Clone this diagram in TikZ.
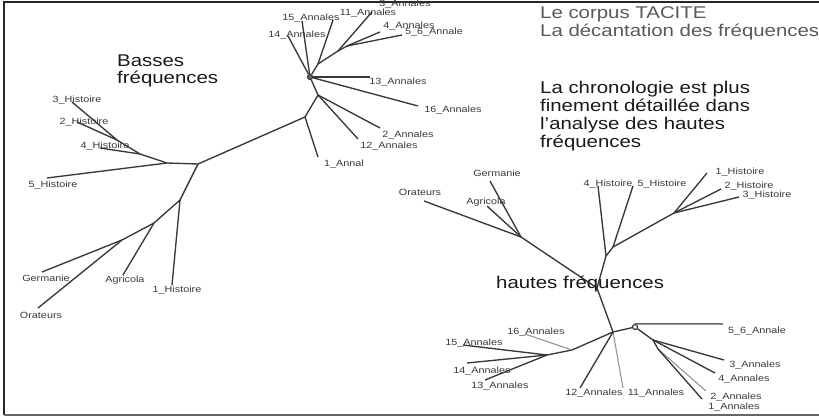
\documentclass[tikz,border=0pt]{standalone}
\usepackage{fontspec}
\setmainfont{Liberation Sans}[FakeStretch=1.2]
\begin{document}
\begin{tikzpicture}[x=1pt,y=-1pt,
  br/.style={draw=black!78, line width=1.35pt},
  brl/.style={draw=black!42, line width=1.1pt},
  lbl/.style={font=\fontsize{9}{10}\selectfont, text=black!78, inner sep=0pt},
  big/.style={font=\fontsize{17}{18}\selectfont, inner sep=0pt, anchor=base west},
  hub/.style={circle, draw=black!80, line width=1.2pt, minimum size=5pt, inner sep=0pt},
  frame/.style={line width=2pt}]
\useasboundingbox (0,0) rectangle (819,417);
\clip (0,0) rectangle (819,417);
% frame
\coordinate (f1) at (3.5,2.5);
\coordinate (f2) at (819,2.5);
\coordinate (f3) at (3.5,415);
\coordinate (f4) at (819,415);
\draw[frame, black!85] (f2) -- (f1) -- (f3);
\draw[frame, black!60] (f3) -- (f4);

% ---------- left tree (basses frequences) ----------
\coordinate (A) at (198,164);
\coordinate (B) at (167,163);
\coordinate (C) at (140,154);
\coordinate (D) at (117,140);
\coordinate (W) at (180,200);
\coordinate (X) at (154,223);
\coordinate (Y) at (122,240);
\coordinate (E) at (305,117);
\coordinate (F) at (318,95);
\node[hub, fill=black!55] (G) at (310,77) {};
\coordinate (H) at (318,64);
\coordinate (I) at (338,51);
\coordinate (J) at (347,46);

\coordinate (e5H) at (47,178);
\coordinate (e4H) at (100,148);
\coordinate (e2H) at (77,122);
\coordinate (e3H) at (72,102);
\coordinate (e1H) at (172,285);
\coordinate (eAg) at (123,275);
\coordinate (eGe) at (42,272);
\coordinate (eOr) at (38,308);
\coordinate (e1A) at (318,157);
\coordinate (e2A) at (380,128);
\coordinate (e12A) at (358,139);
\coordinate (e13A) at (370,77);
\coordinate (e16A) at (418,106);
\coordinate (e14A) at (288,36);
\coordinate (e15A) at (302,21);
\coordinate (e11A) at (333,20);
\coordinate (e3A) at (372,12);
\coordinate (e4A) at (380,32);
\coordinate (e56A) at (402,35);

\draw[br] (A) -- (B) -- (C) -- (D);
\draw[br] (B) -- (e5H);
\draw[br] (C) -- (e4H);
\draw[br] (D) -- (e2H);
\draw[br] (D) -- (e3H);
\draw[br] (A) -- (W) -- (X) -- (Y);
\draw[br] (W) -- (e1H);
\draw[br] (X) -- (eAg);
\draw[br] (Y) -- (eGe);
\draw[br] (Y) -- (eOr);
\draw[br] (A) -- (E) -- (F) -- (G);
\draw[br] (E) -- (e1A);
\draw[br] (F) -- (e2A);
\draw[br] (F) -- (e12A);
\draw[br] (G) -- (e13A);
\draw[br] (G) -- (e16A);
\draw[br] (G) -- (e14A);
\draw[br] (G) -- (e15A);
\draw[br] (G) -- (H) -- (I) -- (J);
\draw[br] (H) -- (e11A);
\draw[br] (I) -- (e3A);
\draw[br] (J) -- (e4A);
\draw[br] (J) -- (e56A);

\node[lbl] (l5H) at (53,185) {5\_Histoire};
\node[lbl] (l4H) at (105,146) {4\_Histoire};
\node[lbl] (l2H) at (84,122) {2\_Histoire};
\node[lbl] (l3H) at (77,100) {3\_Histoire};
\node[lbl] (l1H) at (177,290) {1\_Histoire};
\node[lbl] (lAg) at (125,280) {Agricola};
\node[lbl] (lGe) at (46,278) {Germanie};
\node[lbl] (lOr) at (41,315) {Orateurs};
\node[lbl] (l1A) at (344,164) {1\_Annal};
\node[lbl] (l2A) at (408,135) {2\_Annales};
\node[lbl] (l12A) at (389,146) {12\_Annales};
\node[lbl] (l13A) at (398,82) {13\_Annales};
\node[lbl] (l16A) at (453,110) {16\_Annales};
\node[lbl] (l14A) at (297,35) {14\_Annales};
\node[lbl] (l15A) at (311,18) {15\_Annales};
\node[lbl] (l11A) at (368,13) {11\_Annales};
\node[lbl] (l3A) at (405,4) {3\_Annales};
\node[lbl] (l4A) at (409,26) {4\_Annales};
\node[lbl] (l56A) at (434,32) {5\_6\_Annale};

% ---------- right tree (hautes frequences) ----------
\coordinate (N) at (597,288);
\coordinate (K) at (521,237);
\coordinate (L) at (606,256);
\coordinate (L2) at (613,247);
\coordinate (Q) at (674,213);
\coordinate (M) at (613,332);
\node[hub] (R) at (635,327) {};
\coordinate (S) at (653,340);
\coordinate (T) at (658,349);
\coordinate (U) at (572,350);
\coordinate (V) at (547,355);

\coordinate (rOr) at (424,201);
\coordinate (rGe) at (490,181);
\coordinate (rAg) at (487,206);
\coordinate (r4H) at (598,186);
\coordinate (r5H) at (633,186);
\coordinate (r1H) at (707,173);
\coordinate (r2H) at (721,189);
\coordinate (r3H) at (739,197);
\coordinate (r11A) at (623,388);
\coordinate (r12A) at (580,388);
\coordinate (r56A) at (723,324);
\coordinate (r3A) at (724,360);
\coordinate (r4A) at (715,373);
\coordinate (r2A) at (706,391);
\coordinate (r1A) at (702,399);
\coordinate (r16A) at (525,334);
\coordinate (r15A) at (463,345);
\coordinate (r14A) at (467,363);
\coordinate (r13A) at (485,380);

\draw[br] (N) -- (K) -- (rOr);
\draw[br] (K) -- (rGe);
\draw[br] (K) -- (rAg);
\draw[br] (M) -- (N) -- (L) -- (L2) -- (Q);
\draw[br] (L) -- (r4H);
\draw[br] (L2) -- (r5H);
\draw[br] (Q) -- (r1H);
\draw[br] (Q) -- (r2H);
\draw[br] (Q) -- (r3H);
\draw[brl] (M) -- (r11A);
\draw[br] (M) -- (r12A);
\draw[br] (M) -- (R);
\draw[draw=black!60, line width=1.5pt] (R.north) -- (r56A);
\draw[br] (R) -- (S) -- (T);
\draw[br] (S) -- (r3A);
\draw[br] (S) -- (r4A);
\draw[brl] (T) -- (r2A);
\draw[br] (T) -- (r1A);
\draw[br] (M) -- (U) -- (V);
\draw[brl] (U) -- (r16A);
\draw[br] (V) -- (r15A);
\draw[br] (V) -- (r14A);
\draw[br] (V) -- (r13A);

\node[lbl] (mOr) at (420,192) {Orateurs};
\node[lbl] (mGe) at (497,173) {Germanie};
\node[lbl] (mAg) at (486,202) {Agricola};
\node[lbl] (m4H) at (608,184) {4\_Histoire};
\node[lbl] (m5H) at (662,184) {5\_Histoire};
\node[lbl] (m1H) at (740,172) {1\_Histoire};
\node[lbl] (m2H) at (749,186) {2\_Histoire};
\node[lbl] (m3H) at (767,195) {3\_Histoire};
\node[lbl] (m12A) at (594,393) {12\_Annales};
\node[lbl] (m11A) at (656,393) {11\_Annales};
\node[lbl] (m56A) at (757,331) {5\_6\_Annale};
\node[lbl] (m3A) at (755,365) {3\_Annales};
\node[lbl] (m4A) at (744,379) {4\_Annales};
\node[lbl] (m2A) at (736,397) {2\_Annales};
\node[lbl] (m1A) at (734,407) {1\_Annales};
\node[lbl] (m16A) at (536,332) {16\_Annales};
\node[lbl] (m15A) at (474,343) {15\_Annales};
\node[lbl] (m14A) at (482,371) {14\_Annales};
\node[lbl] (m13A) at (500,386) {13\_Annales};

% ---------- texts ----------
\node[big, text=black!65] (t1) at (540,19) {Le corpus TACITE};
\node[big, text=black!65] (t2) at (540,37) {La décantation des fréquences};
\node[big, text=black!90] (t3) at (540,94) {La chronologie est plus};
\node[big, text=black!90] (t4) at (540,112) {finement détaillée dans};
\node[big, text=black!90] (t5) at (540,130) {l'analyse des hautes};
\node[big, text=black!90] (t6) at (540,148) {fréquences};
\node[big, text=black!90] (b1) at (117,67) {Basses};
\node[big, text=black!90] (b2) at (117,84) {fréquences};
\node[big, text=black!90] (h1) at (496,288) {hautes fréquences};
\end{tikzpicture}
\end{document}
